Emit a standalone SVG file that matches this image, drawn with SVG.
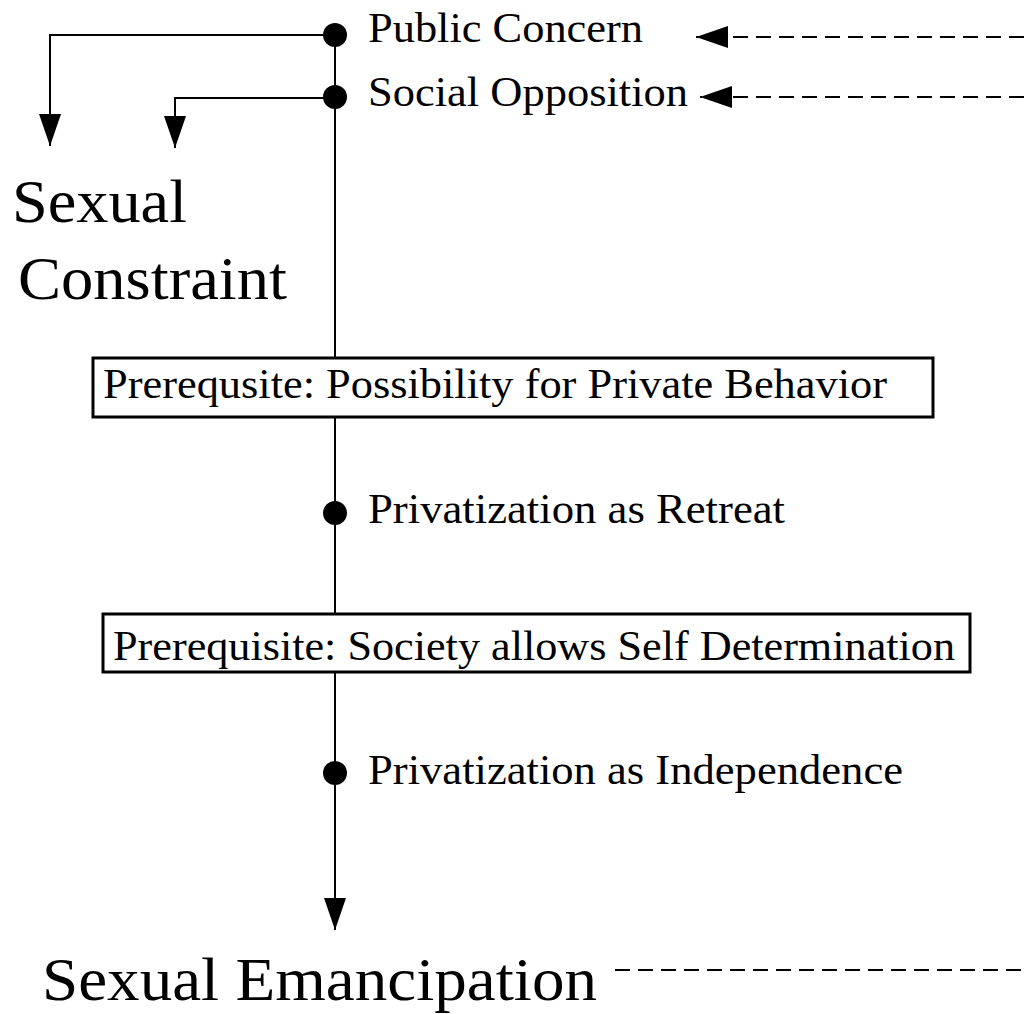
<svg xmlns="http://www.w3.org/2000/svg" width="1024" height="1014" viewBox="0 0 1024 1014">
<style>
.t{font-family:'Liberation Serif','Times New Roman',Tinos,Times,serif;fill:#000}
.s{font-size:42px}
.b{font-size:62px}
.ln{stroke:#000;stroke-width:2;fill:none}
.dash{stroke:#000;stroke-width:2;fill:none;stroke-dasharray:15 8}
.box{fill:#fff;stroke:#000;stroke-width:3}
</style>
<defs>
<marker id="ah" markerWidth="32" markerHeight="22" refX="32" refY="11" orient="auto" markerUnits="userSpaceOnUse" viewBox="0 0 32 22"><path d="M0,0 L32,11 L0,22 Z" fill="#000"/></marker>
</defs>
<g id="connectors">
<path class="ln" d="M335,35 L335,357"/>
<path class="ln" d="M335,418 L335,613"/>
<path class="ln" d="M335,673 L335,930" marker-end="url(#ah)"/>
<path class="ln" d="M335,35 L50,35 L50,146" marker-end="url(#ah)"/>
<path class="ln" d="M335,98 L175,98 L175,148" marker-end="url(#ah)"/>
<path class="dash" d="M1024,37 L696,37" marker-end="url(#ah)"/>
<path class="dash" d="M1024,97 L700,97" marker-end="url(#ah)"/>
<path class="dash" d="M615,970 L1024,970"/>
</g>
<g id="n-public"><circle cx="335" cy="35" r="12"/><text class="t s" x="368" y="42" textLength="275" lengthAdjust="spacingAndGlyphs">Public Concern</text></g>
<g id="n-social"><circle cx="335" cy="97" r="12"/><text class="t s" x="368" y="106" textLength="320" lengthAdjust="spacingAndGlyphs">Social Opposition</text></g>
<g id="n-constraint"><text class="t b" x="12" y="222" textLength="175" lengthAdjust="spacingAndGlyphs">Sexual</text><text class="t b" x="18" y="299" textLength="269" lengthAdjust="spacingAndGlyphs">Constraint</text></g>
<g id="n-prereq1"><rect class="box" x="93" y="358" width="840" height="59"/><text class="t s" x="103" y="398" textLength="784" lengthAdjust="spacingAndGlyphs">Prerequsite: Possibility for Private Behavior</text></g>
<g id="n-retreat"><circle cx="335" cy="513" r="12"/><text class="t s" x="368" y="523" textLength="417" lengthAdjust="spacingAndGlyphs">Privatization as Retreat</text></g>
<g id="n-prereq2"><rect class="box" x="103" y="614" width="867" height="58"/><text class="t s" x="113" y="660" textLength="842" lengthAdjust="spacingAndGlyphs">Prerequisite: Society allows Self Determination</text></g>
<g id="n-independence"><circle cx="335" cy="773" r="12"/><text class="t s" x="368" y="784" textLength="535" lengthAdjust="spacingAndGlyphs">Privatization as Independence</text></g>
<g id="n-emancipation"><text class="t b" x="42" y="1000" textLength="555" lengthAdjust="spacingAndGlyphs">Sexual Emancipation</text></g>
</svg>
